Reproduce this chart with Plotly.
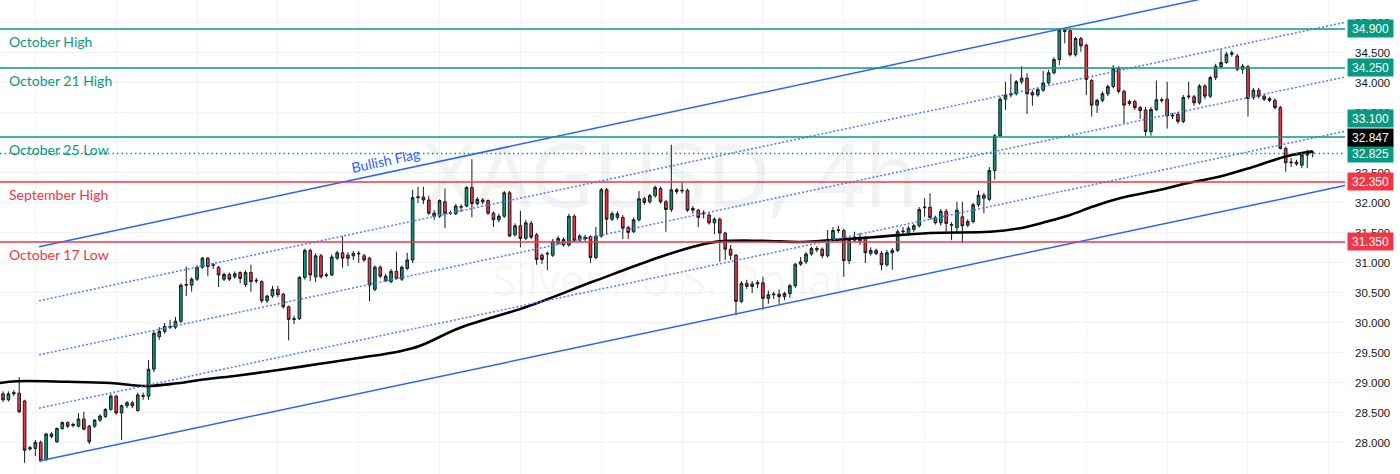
import plotly.graph_objects as go

# ---------------- data ----------------
open_ = [
    28.82, 28.72, 28.82, 28.83, 28.70, 27.90, 27.91, 28.01, 27.72, 28.11,
    28.02, 28.24, 28.34, 28.29, 28.28, 28.40, 28.28, 28.28, 28.38, 28.44,
    28.56, 28.78, 28.50, 28.62, 28.67, 28.54, 28.79, 28.78, 29.23, 29.77,
    29.86, 29.93, 29.93, 30.03, 30.63, 30.63, 30.73, 30.93, 31.08, 30.96,
    30.93, 30.73, 30.81, 30.77, 30.84, 30.64, 30.84, 30.70, 30.69, 30.37,
    30.45, 30.56, 30.48, 30.27, 30.06, 30.07, 30.76, 31.21, 30.77, 31.12,
    30.79, 30.80, 31.08, 31.17, 31.13, 31.12, 31.15, 31.12, 31.08, 30.56,
    30.93, 30.71, 30.69, 30.86, 30.73, 30.91, 31.05, 32.09, 32.10, 32.05,
    31.78, 31.78, 32.02, 31.83, 31.82, 31.93, 31.95, 32.26, 31.99, 32.05,
    32.04, 31.83, 31.72, 31.78, 32.17, 31.47, 31.62, 31.41, 31.66, 31.47,
    31.13, 31.15, 31.13, 31.33, 31.30, 31.30, 31.78, 31.38, 31.43, 31.44,
    31.09, 31.45, 32.22, 31.73, 31.76, 31.76, 31.59, 31.52, 31.72, 32.07,
    32.02, 32.12, 32.24, 32.02, 31.89, 32.22, 32.20, 32.21, 31.88, 31.88,
    31.82, 31.80, 31.67, 31.73, 31.50, 31.23, 31.13, 30.36, 30.66, 30.61,
    30.65, 30.67, 30.41, 30.47, 30.48, 30.44, 30.49, 30.62, 30.98, 31.02,
    31.15, 31.22, 31.23, 31.12, 31.39, 31.54, 31.54, 31.04, 31.38, 31.43,
    31.41, 31.16, 31.21, 31.16, 30.97, 31.17, 31.21, 31.52, 31.49, 31.56,
    31.62, 31.92, 31.93, 31.67, 31.67, 31.86, 31.63, 31.59, 31.77, 31.63,
    31.69, 31.97, 32.13, 32.06, 32.54, 33.12, 33.73, 33.80, 33.82, 34.02,
    34.08, 33.84, 33.80, 33.88, 34.00, 34.17, 34.39, 34.88, 34.87, 34.47,
    34.74, 34.63, 34.04, 33.63, 33.71, 33.82, 33.94, 34.24, 33.86, 33.66,
    33.69, 33.59, 33.55, 33.19, 33.56, 33.72, 33.73, 33.45, 33.48, 33.36,
    33.77, 33.77, 33.67, 33.95, 33.78, 34.09, 34.27, 34.34, 34.48, 34.45,
    34.23, 34.27, 33.76, 33.88, 33.78, 33.74, 33.71, 33.59, 32.91, 32.67,
    32.68, 32.63, 32.80, 32.84,
]
high = [
    28.86, 28.86, 28.88, 29.10, 28.72, 27.95, 28.05, 28.04, 28.17, 28.18,
    28.26, 28.36, 28.36, 28.34, 28.50, 28.52, 28.30, 28.40, 28.48, 28.58,
    28.82, 28.80, 28.64, 28.70, 28.70, 28.84, 28.84, 29.38, 29.87, 29.93,
    30.00, 30.05, 30.10, 30.66, 30.94, 30.76, 30.96, 31.10, 31.10, 31.00,
    30.95, 30.84, 30.84, 30.86, 30.86, 30.88, 30.97, 30.75, 30.71, 30.47,
    30.62, 30.62, 30.50, 30.29, 30.12, 30.78, 31.24, 31.24, 31.16, 31.15,
    30.84, 31.14, 31.20, 31.44, 31.18, 31.20, 31.20, 31.15, 31.10, 30.96,
    30.96, 30.82, 30.90, 31.19, 30.96, 31.17, 32.22, 32.27, 32.27, 32.12,
    31.88, 32.06, 32.24, 31.87, 31.98, 31.98, 32.28, 32.73, 32.10, 32.08,
    32.06, 31.86, 31.82, 32.20, 32.20, 31.66, 31.87, 31.72, 31.70, 31.50,
    31.16, 31.19, 31.40, 31.45, 31.43, 31.82, 31.81, 31.48, 31.47, 31.46,
    31.60, 32.25, 32.25, 31.86, 31.86, 31.80, 31.62, 31.76, 32.20, 32.10,
    32.15, 32.29, 32.27, 32.05, 32.97, 32.25, 32.34, 32.24, 31.95, 31.90,
    31.88, 31.83, 31.76, 31.76, 31.52, 31.30, 31.15, 30.70, 30.72, 30.70,
    30.71, 30.77, 30.54, 30.52, 30.56, 30.52, 30.65, 31.00, 31.10, 31.18,
    31.27, 31.28, 31.26, 31.55, 31.60, 31.62, 31.57, 31.42, 31.52, 31.50,
    31.45, 31.26, 31.24, 31.20, 31.22, 31.25, 31.56, 31.60, 31.62, 31.65,
    31.93, 32.08, 32.16, 31.79, 31.90, 31.90, 31.68, 32.02, 32.02, 31.73,
    32.00, 32.20, 32.17, 32.60, 33.15, 33.77, 34.02, 34.15, 34.05, 34.28,
    34.16, 33.88, 33.92, 34.20, 34.22, 34.43, 34.91, 34.91, 34.90, 34.77,
    34.77, 34.66, 34.07, 33.74, 33.86, 33.97, 34.30, 34.28, 33.89, 33.72,
    33.72, 33.62, 33.60, 33.60, 34.04, 33.76, 34.02, 33.50, 33.52, 33.80,
    34.02, 33.80, 33.98, 33.98, 34.12, 34.32, 34.56, 34.52, 34.54, 34.48,
    34.32, 34.30, 33.92, 33.92, 33.82, 33.77, 33.74, 33.62, 32.94, 32.75,
    32.72, 32.84, 32.89, 32.87,
]
low = [
    28.68, 28.69, 28.78, 28.50, 27.67, 27.87, 27.78, 27.68, 27.70, 28.08,
    28.00, 28.22, 28.25, 28.26, 28.26, 28.21, 27.98, 28.25, 28.35, 28.42,
    28.54, 28.47, 28.05, 28.58, 28.58, 28.52, 28.72, 28.72, 29.18, 29.72,
    29.82, 29.90, 29.90, 30.00, 30.45, 30.52, 30.70, 30.90, 30.78, 30.90,
    30.60, 30.70, 30.70, 30.74, 30.66, 30.60, 30.52, 30.66, 30.33, 30.33,
    30.42, 30.43, 30.24, 29.71, 29.98, 30.05, 30.72, 30.70, 30.68, 30.74,
    30.76, 30.78, 31.05, 30.92, 30.95, 31.05, 31.00, 31.02, 30.36, 30.53,
    30.75, 30.68, 30.66, 30.72, 30.70, 30.88, 31.00, 32.00, 31.98, 31.80,
    31.72, 31.75, 31.58, 31.80, 31.80, 31.85, 31.93, 31.76, 31.96, 31.98,
    31.80, 31.60, 31.68, 31.75, 31.43, 31.44, 31.26, 31.38, 31.40, 30.97,
    30.98, 30.88, 31.10, 31.30, 31.27, 31.27, 31.35, 31.35, 31.36, 31.00,
    31.06, 31.42, 31.47, 31.70, 31.72, 31.40, 31.40, 31.50, 31.69, 31.97,
    31.99, 32.09, 31.99, 31.52, 31.85, 32.15, 32.16, 31.85, 31.82, 31.60,
    31.74, 31.64, 31.48, 31.02, 31.05, 31.05, 30.13, 30.33, 30.57, 30.50,
    30.58, 30.22, 30.32, 30.40, 30.32, 30.38, 30.42, 30.58, 30.95, 30.98,
    31.12, 31.18, 31.08, 31.09, 31.36, 31.50, 30.77, 30.98, 31.35, 31.30,
    31.00, 31.12, 31.13, 30.88, 30.94, 30.89, 31.18, 31.48, 31.45, 31.52,
    31.59, 31.77, 31.72, 31.64, 31.62, 31.52, 31.38, 31.49, 31.33, 31.60,
    31.66, 31.93, 31.83, 32.03, 32.39, 33.10, 33.55, 33.76, 33.79, 33.98,
    33.48, 33.62, 33.77, 33.85, 33.97, 34.14, 34.30, 34.66, 34.44, 34.44,
    34.52, 33.80, 33.44, 33.50, 33.68, 33.78, 33.91, 33.83, 33.33, 33.62,
    33.55, 33.40, 33.12, 33.12, 33.53, 33.67, 33.24, 33.40, 33.32, 33.33,
    33.73, 33.62, 33.64, 33.73, 33.75, 34.05, 34.24, 34.32, 34.44, 34.20,
    34.15, 33.44, 33.72, 33.74, 33.70, 33.68, 33.56, 32.89, 32.52, 32.60,
    32.62, 32.58, 32.58, 32.76,
]
close = [
    28.72, 28.82, 28.84, 28.52, 27.88, 27.92, 28.01, 27.71, 28.15, 28.15,
    28.24, 28.34, 28.28, 28.31, 28.40, 28.23, 28.02, 28.38, 28.45, 28.56,
    28.78, 28.50, 28.62, 28.67, 28.62, 28.80, 28.78, 29.23, 29.83, 29.86,
    29.94, 29.94, 30.03, 30.63, 30.64, 30.73, 30.93, 31.08, 30.94, 30.97,
    30.80, 30.81, 30.73, 30.82, 30.74, 30.84, 30.69, 30.71, 30.37, 30.45,
    30.56, 30.47, 30.27, 30.06, 30.07, 30.76, 31.21, 30.80, 31.12, 30.77,
    30.80, 31.10, 31.17, 31.08, 31.08, 31.16, 31.16, 31.05, 30.63, 30.93,
    30.78, 30.78, 30.86, 30.74, 30.93, 31.05, 32.09, 32.10, 32.05, 31.83,
    31.83, 32.04, 31.83, 31.84, 31.95, 31.94, 32.26, 31.99, 32.06, 32.02,
    31.83, 31.72, 31.78, 32.17, 31.45, 31.62, 31.41, 31.67, 31.43, 31.06,
    31.06, 31.16, 31.36, 31.41, 31.39, 31.78, 31.38, 31.45, 31.40, 31.09,
    31.45, 32.22, 31.73, 31.82, 31.82, 31.58, 31.51, 31.72, 32.07, 32.01,
    32.12, 32.26, 32.02, 31.89, 32.22, 32.19, 32.21, 31.88, 31.91, 31.76,
    31.83, 31.67, 31.73, 31.50, 31.23, 31.13, 30.36, 30.66, 30.61, 30.65,
    30.67, 30.41, 30.47, 30.48, 30.44, 30.49, 30.62, 30.98, 31.02, 31.15,
    31.24, 31.24, 31.12, 31.39, 31.54, 31.55, 31.04, 31.39, 31.43, 31.37,
    31.17, 31.21, 31.16, 30.97, 31.17, 31.21, 31.52, 31.53, 31.58, 31.62,
    31.89, 31.93, 31.76, 31.76, 31.86, 31.66, 31.64, 31.88, 31.62, 31.69,
    31.97, 32.13, 32.08, 32.54, 33.12, 33.73, 33.80, 33.82, 34.02, 34.08,
    33.82, 33.80, 33.89, 34.00, 34.17, 34.39, 34.88, 34.86, 34.47, 34.74,
    34.62, 34.06, 33.63, 33.71, 33.82, 33.94, 34.24, 33.86, 33.63, 33.69,
    33.59, 33.54, 33.19, 33.56, 33.72, 33.71, 33.45, 33.46, 33.36, 33.76,
    33.78, 33.67, 33.95, 33.78, 34.09, 34.28, 34.34, 34.48, 34.50, 34.23,
    34.28, 33.74, 33.88, 33.78, 33.73, 33.71, 33.59, 32.91, 32.67, 32.68,
    32.65, 32.80, 32.83, 32.847,
]
bars = list(range(len(close)))

# moving average: (bar position, price)
ma_x = [-0.6, 2.6, 11.9, 19.9, 26.7, 31.9, 36.5, 44.0, 51.4, 58.8, 66.2, 73.7,
        77.4, 84.8, 97.2, 109.5, 121.9, 129.3, 133.0, 140.4, 147.9, 152.0,
        161.4, 172.0, 183.1, 188.7, 193.7, 198.0, 202.2, 207.2, 214.7, 219.7,
        225.8, 231.9, 238.2, 243.0]
ma_y = [29.00, 29.03, 29.02, 29.00, 28.95, 28.99, 29.05, 29.13, 29.22, 29.32,
        29.42, 29.53, 29.62, 29.92, 30.27, 30.69, 31.10, 31.30, 31.36, 31.37,
        31.35, 31.37, 31.43, 31.50, 31.52, 31.58, 31.69, 31.80, 31.94, 32.08,
        32.22, 32.33, 32.44, 32.60, 32.78, 32.86]

# channel (bullish flag) anchors
chan_x = [6.68, 249.0]
chan_upper = [31.27, 35.91]
chan_lower = [27.70, 32.29]
chan_q1 = [30.37, 35.01]
chan_mid = [29.47, 34.10]
chan_q3 = [28.58, 33.195]

# horizontal levels
level_prices = [34.900, 34.250, 33.100, 32.350, 31.350]
level_names = ["October High", "October 21 High", "October 25 Low",
               "September High", "October 17 Low"]
level_kinds = ["up", "up", "up", "down", "down"]
dotted_level = 32.825
last_price = 32.847

tick_vals = [28.0, 28.5, 29.0, 29.5, 30.0, 30.5, 31.0, 31.5, 32.0, 32.5,
             33.0, 33.5, 34.0, 34.5, 35.0]
tick_text = ["28.000", "28.500", "29.000", "29.500", "30.000", "30.500",
             "31.000", "31.500", "32.000", "32.500", "", "33.500",
             "34.000", "34.500", "35.000"]

# ---------------- styling ----------------
GREEN = "#089981"
RED = "#f23645"
BLUE = "#2962ff"
DOT_BLUE = "#4f7ff2"
GRID = "#f0f3fa"
TXT = "#131722"

# price-scale label boxes are stacked by the chart to avoid collisions (pixels up)
label_lift = {33.100: 18, 32.847: 15}

fig = go.Figure()

# watermark (drawn first so it stays under the candles)
fig.add_trace(go.Scatter(
    x=[124.0], y=[32.30], mode="text", text=["XAGUSD, 4h"],
    textfont=dict(family="Noto Sans", size=88, color="rgba(19,23,34,0.05)"),
    hoverinfo="skip", showlegend=False))
fig.add_trace(go.Scatter(
    x=[124.0], y=[30.63], mode="text", text=["Silver / U.S. Dollar"],
    textfont=dict(family="Noto Sans", size=43, color="rgba(19,23,34,0.05)"),
    hoverinfo="skip", showlegend=False))

fig.add_trace(go.Candlestick(
    x=bars, open=open_, high=high, low=low, close=close,
    increasing=dict(fillcolor=GREEN, line=dict(color="#1a1a1a", width=1)),
    decreasing=dict(fillcolor=RED, line=dict(color="#1a1a1a", width=1)),
    whiskerwidth=0, showlegend=False, hoverinfo="skip"))

fig.add_trace(go.Scatter(
    x=ma_x, y=ma_y, mode="lines", line=dict(color="#000000", width=2.6, shape="spline"),
    hoverinfo="skip", showlegend=False))

for ys in (chan_upper, chan_lower):
    fig.add_trace(go.Scatter(x=chan_x, y=ys, mode="lines",
                             line=dict(color=BLUE, width=1.5),
                             hoverinfo="skip", showlegend=False))
for ys in (chan_q1, chan_mid, chan_q3):
    fig.add_trace(go.Scatter(x=chan_x, y=ys, mode="lines",
                             line=dict(color=DOT_BLUE, width=1.5, dash="2px,2px"),
                             hoverinfo="skip", showlegend=False))

shapes = []
annotations = []
box_font = dict(family="Liberation Sans", size=12, color="white")


def price_box(p, col):
    return dict(xref="paper", x=1, xanchor="left", xshift=2,
                yref="y", y=p, yanchor="middle", yshift=label_lift.get(p, 0),
                text=f"{p:.3f}", showarrow=False, bgcolor=col,
                width=41, height=13, borderpad=2, font=box_font)


for p, name, kind in zip(level_prices, level_names, level_kinds):
    col = GREEN if kind == "up" else RED
    shapes.append(dict(type="line", xref="paper", x0=0, x1=1, yref="y", y0=p, y1=p,
                       line=dict(color=col, width=1.5), layer="above"))
    annotations.append(dict(xref="paper", x=0, xanchor="left", xshift=7,
                            yref="y", y=p, yanchor="top", yshift=-2,
                            text=name, showarrow=False,
                            font=dict(family="Lato", size=14, color=col)))
    annotations.append(price_box(p, col))

shapes.append(dict(type="line", xref="paper", x0=0, x1=1, yref="y",
                   y0=dotted_level, y1=dotted_level,
                   line=dict(color=GREEN, width=1.4, dash="1.5px,3px"), layer="above"))
annotations.append(price_box(dotted_level, GREEN))
annotations.append(price_box(last_price, "#000000"))

annotations.append(dict(xref="x", x=70.9, yref="y", y=32.70, text="Bullish Flag",
                        showarrow=False, textangle=-12.2,
                        font=dict(family="Lato", size=14, color=BLUE)))

fig.update_layout(
    width=1400, height=474,
    margin=dict(l=0, r=55, t=0, b=0),
    paper_bgcolor="white", plot_bgcolor="white",
    shapes=shapes, annotations=annotations,
    showlegend=False,
    xaxis=dict(range=[-0.56, 249.0], showgrid=True, gridcolor=GRID, gridwidth=1,
               tick0=6, dtick=15, showticklabels=False, zeroline=False,
               showline=False, ticks="", rangeslider=dict(visible=False),
               fixedrange=True),
    yaxis=dict(range=[27.483, 35.383], side="right", tickmode="array",
               tickvals=tick_vals, ticktext=tick_text, showgrid=True,
               gridcolor=GRID, gridwidth=1, zeroline=False, showline=False,
               ticks="", ticklabelstandoff=9,
               tickfont=dict(family="Liberation Sans", size=11.5, color=TXT),
               fixedrange=True),
)

fig.write_html("out.html",
               config={"displayModeBar": False},
               post_script="document.body.style.margin='0';"
                           "document.body.style.overflow='hidden';")
